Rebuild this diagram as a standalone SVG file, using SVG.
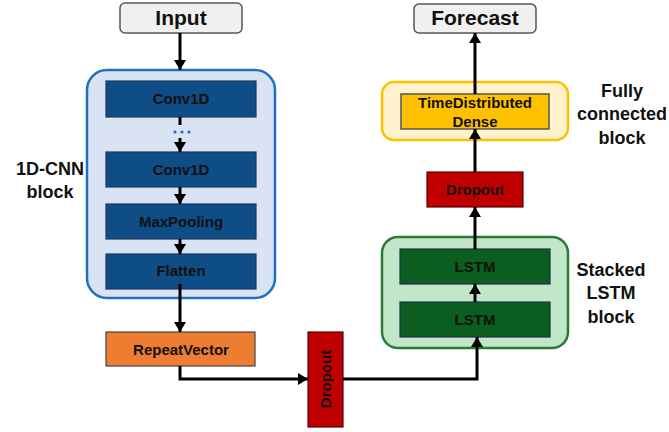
<svg xmlns="http://www.w3.org/2000/svg" width="669" height="432" viewBox="0 0 669 432">
<defs>
<marker id="ah" markerWidth="12" markerHeight="12" refX="10" refY="6" orient="auto" markerUnits="userSpaceOnUse"><path d="M0,0 L10,6 L0,12 z" fill="#000"/></marker>
<style>
text{font-family:"Liberation Sans",Arial,sans-serif;font-weight:bold;text-anchor:middle;fill:#111}
.io{fill:#f0f0f0;stroke:#555;stroke-width:1.5}
.io-t{font-size:21px}
.blue{fill:#0e4d85;stroke:#1f3864;stroke-width:1.2}
.green{fill:#0b5e1f;stroke:#1f3050;stroke-width:1.2}
.red{fill:#c00000;stroke:#5a0000;stroke-width:1.2}
.orange{fill:#ed7d31;stroke:#444;stroke-width:1.2}
.yellow{fill:#ffc000;stroke:#555;stroke-width:1.5}
.lbl{font-size:15px}
.side{font-size:18px}
.conn path{fill:none;stroke:#000;stroke-width:3}
</style>
</defs>
<rect x="0" y="0" width="669" height="432" fill="#fff"/>

<g id="cnn-block">
<rect x="87" y="70" width="188" height="228" rx="20" fill="#dae3f3" stroke="#1f6fc5" stroke-width="2.5"/>
<text class="side" x="50" y="175">1D-CNN</text>
<text class="side" x="50" y="198">block</text>
</g>
<g id="lstm-block">
<rect x="382" y="237" width="186" height="111" rx="16" fill="#c1e6c8" stroke="#2b7a3a" stroke-width="2.5"/>
<text class="side" x="611" y="276">Stacked</text>
<text class="side" x="611" y="299">LSTM</text>
<text class="side" x="611" y="323">block</text>
</g>
<g id="fc-block">
<rect x="382" y="82" width="186" height="58" rx="12" fill="#fff2cc" stroke="#ffc000" stroke-width="2.5"/>
<text class="side" x="622" y="97">Fully</text>
<text class="side" x="622" y="120">connected</text>
<text class="side" x="622" y="144">block</text>
</g>

<g id="input"><rect class="io" x="120" y="3" width="122" height="30" rx="5"/><text class="io-t" x="181" y="25">Input</text></g>
<g id="forecast"><rect class="io" x="414" y="4" width="122" height="29" rx="5"/><text class="io-t" x="475" y="25">Forecast</text></g>

<g id="conv1"><rect class="blue" x="106" y="81" width="150" height="36"/><text class="lbl" x="181" y="104">Conv1D</text></g>
<g id="dots"><circle cx="175" cy="132" r="1.6" fill="#1f6fc5"/><circle cx="182" cy="132" r="1.6" fill="#1f6fc5"/><circle cx="189" cy="132" r="1.6" fill="#1f6fc5"/></g>
<g id="conv2"><rect class="blue" x="106" y="152" width="150" height="35"/><text class="lbl" x="181" y="175">Conv1D</text></g>
<g id="maxpool"><rect class="blue" x="106" y="204" width="150" height="35"/><text class="lbl" x="181" y="227">MaxPooling</text></g>
<g id="flatten"><rect class="blue" x="106" y="254" width="150" height="35"/><text class="lbl" x="181" y="276">Flatten</text></g>
<g id="repeat"><rect class="orange" x="106" y="332" width="149" height="34"/><text class="lbl" x="181" y="355">RepeatVector</text></g>
<g id="dropout1"><rect class="red" x="308" y="332" width="35" height="95"/><text class="lbl" transform="translate(331,379) rotate(-90)" x="0" y="0">Dropout</text></g>
<g id="lstm1"><rect class="green" x="400" y="302" width="150" height="35"/><text class="lbl" x="475" y="325">LSTM</text></g>
<g id="lstm2"><rect class="green" x="400" y="249" width="150" height="35"/><text class="lbl" x="475" y="272">LSTM</text></g>
<g id="dropout2"><rect class="red" x="427" y="172" width="96" height="35"/><text class="lbl" x="475" y="195">Dropout</text></g>
<g id="td-dense"><rect class="yellow" x="401" y="94" width="148" height="35"/><text class="lbl" x="475" y="108">TimeDistributed</text><text class="lbl" x="475" y="127">Dense</text></g>

<g id="connectors" class="conn">
<path d="M180,33 V70" marker-end="url(#ah)"/>
<path d="M180,117 V125"/>
<path d="M180,138 V152" marker-end="url(#ah)"/>
<path d="M180,187 V204" marker-end="url(#ah)"/>
<path d="M180,239 V254" marker-end="url(#ah)"/>
<path d="M180,284 V332" marker-end="url(#ah)"/>
<path d="M180,366 V379 H308" marker-end="url(#ah)"/>
<path d="M343,379 H477 V337" marker-end="url(#ah)"/>
<path d="M475,302 V284" marker-end="url(#ah)"/>
<path d="M475,249 V207" marker-end="url(#ah)"/>
<path d="M475,172 V129" marker-end="url(#ah)"/>
<path d="M475,94 V33" marker-end="url(#ah)"/>
</g>
</svg>
